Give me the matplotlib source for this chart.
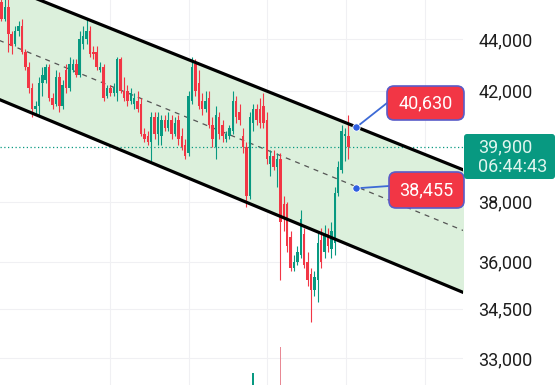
import numpy as np
import matplotlib
matplotlib.use("Agg")
import matplotlib.pyplot as plt
from matplotlib.patches import FancyBboxPatch

plt.rcParams['font.family'] = ['Roboto', 'DejaVu Sans']

# candle data
opens = [45500, 44800, 45300, 44200, 43800, 44300, 44500, 43500, 42900, 42100,
         41300, 41400, 42300, 42400, 42900, 41700, 41500, 42500, 41400, 42800,
         42100, 42800, 43000, 42600, 43800, 44000, 44300, 43500, 43500, 42800,
         42900, 41800, 42100, 41900, 41900, 43200, 42000, 42000, 41600, 41500,
         41600, 41500, 40400, 40300, 40100, 41000, 40400, 40300, 40900, 40600,
         40900, 40400, 40900, 40300, 40000, 39700, 41600, 43000, 42300, 41600,
         41300, 41700, 40700, 39900, 41000, 40700, 40200, 40300, 40500, 41600,
         41200, 40300, 39900, 38200, 40800, 41300, 41300, 41400, 40900, 39300,
         39600, 39200, 39500, 37900, 37900, 36800, 35800, 36000, 36200, 36900,
         36000, 35600, 35100, 35400, 36700, 36300, 36900, 36400, 36600, 38300,
         39100, 40300, 40300]
highs = [45700, 45600, 45600, 44300, 44500, 44700, 44800, 43600, 43100, 42300,
         41600, 42500, 42900, 43000, 43000, 41900, 42800, 42700, 42400, 43000,
         43300, 43200, 43200, 44300, 44500, 44800, 44500, 43700, 43700, 43100,
         43000, 42200, 42200, 42300, 43300, 43300, 42500, 42200, 42100, 41900,
         42000, 41700, 40600, 40500, 41200, 41200, 41200, 41100, 41100, 41200,
         41100, 41000, 41100, 40600, 40200, 42000, 43300, 43200, 42800, 41900,
         42000, 42000, 41000, 41400, 41200, 40900, 40500, 40700, 42000, 41800,
         41500, 40600, 40100, 41200, 41500, 41500, 41700, 41900, 41200, 39800,
         39800, 39700, 39700, 38200, 38000, 37000, 36200, 36500, 37700, 37100,
         36300, 35800, 35700, 37000, 37100, 37200, 37100, 37300, 38500, 39400,
         40700, 40600, 41100]
lows = [44700, 44700, 43500, 43400, 43700, 44100, 43400, 42800, 41900, 41000,
        41100, 41100, 41800, 42300, 41600, 41300, 41400, 41200, 41300, 41900,
        42000, 42700, 42500, 42500, 43600, 43800, 43300, 43200, 42800, 42700,
        41600, 41700, 41800, 41800, 41600, 41900, 41600, 41400, 41500, 41300,
        41200, 40300, 40100, 40000, 39400, 40200, 40000, 40000, 40500, 40500,
        40200, 40300, 40000, 39800, 39500, 39600, 41500, 41800, 41300, 41100,
        41200, 40600, 39900, 39500, 40200, 40100, 40100, 40200, 40400, 40800,
        40700, 39700, 37800, 38100, 40500, 40700, 40600, 40600, 39300, 38900,
        39100, 38500, 35400, 37000, 36300, 35700, 35700, 35900, 36100, 35800,
        35200, 34100, 34900, 34700, 35800, 36100, 36300, 36100, 36200, 38200,
        39000, 39400, 39500]
closes = [44800, 45300, 44200, 43700, 44300, 44500, 43500, 42900, 42100, 41300,
          41400, 42300, 42600, 42900, 41700, 41450, 42500, 41400, 42200, 42100,
          43000, 43000, 42600, 44000, 44100, 44300, 43400, 43400, 42900, 42900,
          41700, 42100, 41900, 42100, 43200, 42000, 41700, 41600, 41900, 41700,
          41300, 40400, 40200, 40100, 41000, 40400, 41000, 40900, 40600, 40900,
          40400, 40800, 40200, 39900, 39600, 41800, 42900, 42000, 41400, 41300,
          41600, 40700, 40200, 41100, 40400, 40300, 40400, 40600, 41600, 41000,
          40900, 39900, 38200, 41000, 41300, 40900, 40800, 40800, 39500, 39600,
          39200, 39500, 37300, 37400, 36500, 35800, 36000, 36300, 37400, 35900,
          35400, 35100, 35500, 36600, 36000, 36900, 36500, 37000, 38300, 39200,
          40500, 40400, 39900]

# volume bars visible at the bottom edge
vol_idx = [74, 82]
vol_values = [3, 10]

# channel (upper, middle, lower) at the left / right edge of the pane
chan_x = [-1, 136]
chan_upper = [46260, 39090]
chan_mid = [43960, 37010]
chan_lower = [41680, 35000]

last_price = 39900
countdown = "06:44:43"
marker_x = 104.3
marker_prices = [40630, 38455]

y_ticks = [44000, 42000, 38000, 36000, 34500, 33000]
grid_x = [31.9, 55.1, 78.1, 101.3, 124.6]

GREEN = "#089981"
RED = "#f23645"

fig = plt.figure(figsize=(5.57, 3.85), dpi=100)
ax = fig.add_axes([0, 0, 463 / 557, 1])
ax.set_yscale("log")
ax.set_xlim(-0.44, 135.7)
ax.set_ylim(32208, 45570)

# grid
for g in y_ticks:
    ax.axhline(g, color="#f0f0f3", lw=0.8, zorder=0)
for g in grid_x:
    ax.axvline(g, color="#f0f0f3", lw=0.8, zorder=0)

# channel
ax.fill_between(chan_x, chan_lower, chan_upper, color="#dcf0dc", zorder=1, lw=0)
ax.plot(chan_x, chan_upper, color="black", lw=2.3, zorder=4)
ax.plot(chan_x, chan_lower, color="black", lw=2.3, zorder=4)
ax.plot(chan_x, chan_mid, color="#555555", lw=0.9, ls=(0, (4, 4)), zorder=2)

# candles
o = np.array(opens)
h = np.array(highs)
l = np.array(lows)
c = np.array(closes)
x = np.arange(len(o))
colors = np.where(c >= o, GREEN, RED)
ax.vlines(x, l, h, colors=colors, lw=0.8, zorder=3)
body_lo = np.minimum(o, c)
body_h = np.maximum(np.abs(c - o), 40)
ax.bar(x, body_h, bottom=body_lo, width=0.72, color=colors, lw=0, zorder=3)

# volume (twin axis)
vax = ax.twinx()
vax.set_ylim(0, 100)
vax.bar(vol_idx, vol_values, width=0.4, color=[GREEN, "#e88894"], lw=0)
vax.axis("off")

# last price line
ax.axhline(last_price, color=GREEN, lw=0.9, ls=(0, (1, 2)), zorder=2)

# markers
ax.scatter([marker_x] * 2, marker_prices, s=28, color="#2f5fe0", zorder=6,
           edgecolors="white", linewidths=0.6)

ax.set_yticks(y_ticks)
ax.set_yticklabels([f"{v:,}" for v in y_ticks])
ax.yaxis.set_minor_locator(matplotlib.ticker.NullLocator())
ax.yaxis.tick_right()
ax.tick_params(axis="y", length=0, pad=11, labelsize=13, labelcolor="#1e1e1e")
ax.set_xticks([])
for s in ax.spines.values():
    s.set_visible(False)

# connectors from dots to labels
ax.annotate("", xy=(marker_x, marker_prices[0]), xytext=(387, 385 - 103),
            textcoords="figure pixels",
            arrowprops=dict(arrowstyle="-", color="#3d6ad6", lw=1.3, shrinkA=0, shrinkB=3))
ax.annotate("", xy=(marker_x, marker_prices[1]), xytext=(389, 385 - 186),
            textcoords="figure pixels",
            arrowprops=dict(arrowstyle="-", color="#3d6ad6", lw=1.3, shrinkA=0, shrinkB=3))

tr = fig.dpi_scale_trans
for (bx, by, bw, bh), val in zip([(3.87, 2.65, 0.77, 0.34), (3.89, 1.77, 0.75, 0.36)],
                                 marker_prices):
    fig.add_artist(FancyBboxPatch((bx, by), bw, bh,
                                  boxstyle="round,pad=0,rounding_size=0.07",
                                  transform=tr, fc=RED, ec="#5a5cc8", lw=1.2))
    fig.text((bx + bw / 2) / 5.57, (by + bh / 2) / 3.85, f"{val:,}",
             ha="center", va="center", color="white", fontsize=13)

# last price tag
fig.add_artist(FancyBboxPatch((4.64, 2.06), 0.91, 0.45,
                              boxstyle="round,pad=0,rounding_size=0.03",
                              transform=tr, fc=GREEN, ec="none"))
fig.text(4.78 / 5.57, (385 - 147) / 385, f"{last_price:,}", ha="left", va="center",
         color="#dff5ee", fontsize=13)
fig.text(4.78 / 5.57, (385 - 167) / 385, countdown, ha="left", va="center",
         color="#dff5ee", fontsize=13)

fig.savefig("out.png", dpi=100)
